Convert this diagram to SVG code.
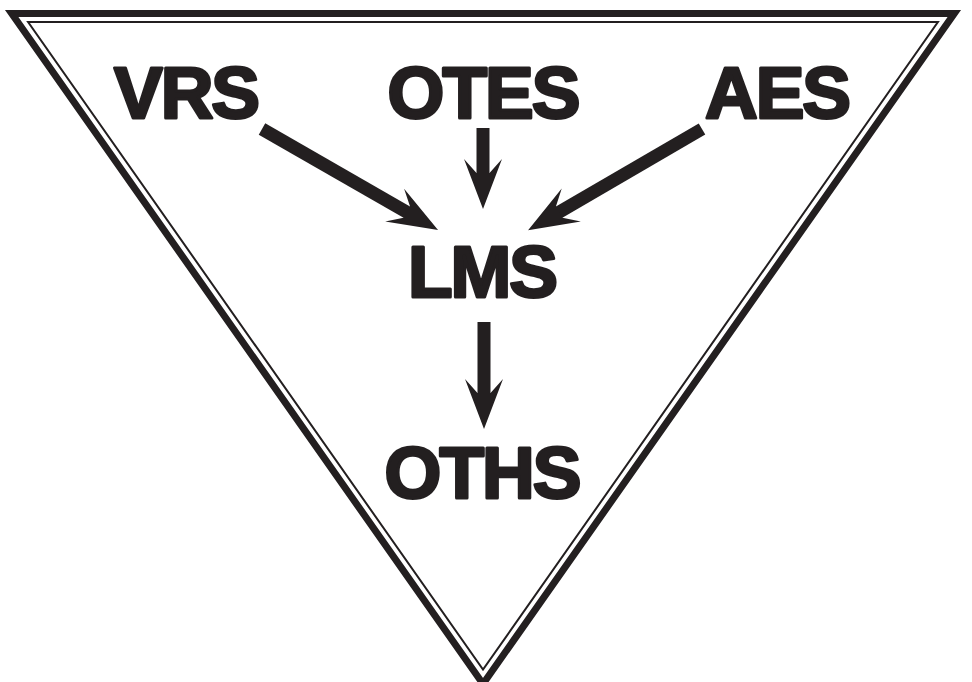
<svg xmlns="http://www.w3.org/2000/svg" width="972" height="682" viewBox="0 0 972 682">
  <style>
    .frame { fill: none; stroke: #231f20; stroke-linejoin: miter; stroke-miterlimit: 10; }
    .thick { stroke-width: 7; }
    .thin { stroke-width: 2; }
    .label { font-family: "Liberation Sans", Arial, sans-serif; font-weight: bold; font-size: 73px; fill: #231f20; stroke: #231f20; stroke-width: 3; stroke-linejoin: round; text-anchor: middle; letter-spacing: -2px; }
    .shaft { stroke: #231f20; stroke-width: 13; fill: none; stroke-linecap: butt; marker-end: url(#head); }
  </style>
  <defs>
    <marker id="head" markerUnits="userSpaceOnUse" markerWidth="52" markerHeight="40" viewBox="0 0 52 40" refX="20" refY="19" orient="auto" overflow="visible">
      <path d="M0,0 L50,19 L0,38 L14,25.5 L14,12.5 Z" fill="#231f20"/>
    </marker>
  </defs>
  <rect width="972" height="682" fill="#ffffff"/>
  <g id="frame">
    <polygon class="frame thick" points="11.7,13.5 954.3,13.5 483,683.9"/>
    <polygon class="frame thin" points="28.1,22 937.9,22 483,669.6"/>
  </g>
  <g id="connectors">
    <line class="shaft" x1="262" y1="129" x2="412" y2="215.1"/>
    <line class="shaft" x1="483" y1="128" x2="483" y2="179"/>
    <line class="shaft" x1="702" y1="129" x2="554" y2="215.1"/>
    <line class="shaft" x1="484" y1="322" x2="484" y2="399"/>
  </g>
  <g id="VRS"><text class="label" x="186" y="118">VRS</text></g>
  <g id="OTES"><text class="label" x="483" y="118">OTES</text></g>
  <g id="AES"><text class="label" x="777" y="118">AES</text></g>
  <g id="LMS"><text class="label" x="482" y="297">LMS</text></g>
  <g id="OTHS"><text class="label" x="482" y="498">OTHS</text></g>
</svg>
